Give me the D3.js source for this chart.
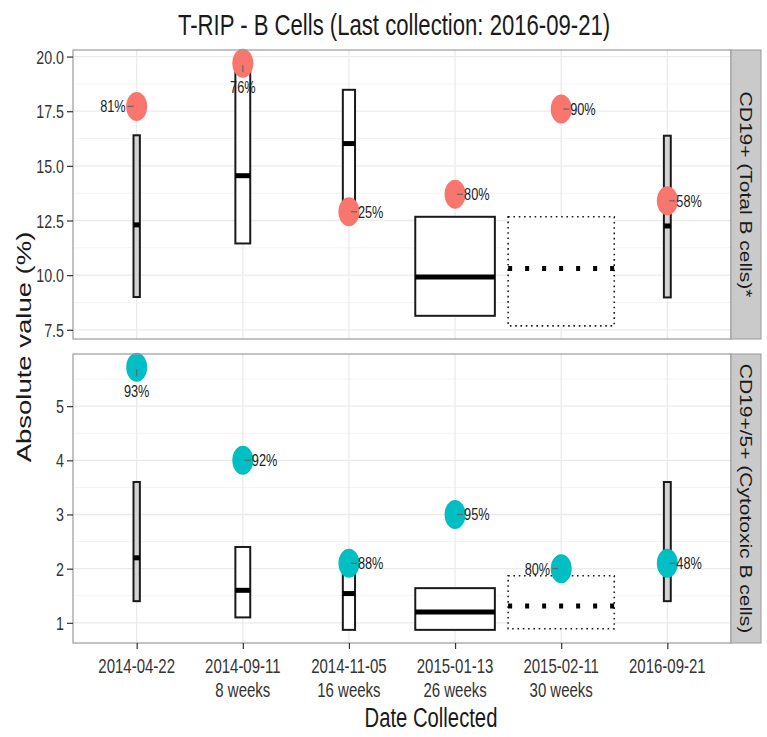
<!DOCTYPE html>
<html>
<head>
<meta charset="utf-8">
<script src="https://cdn.jsdelivr.net/npm/d3@7"></script>
<style>
  body { margin: 0; background: #fff; }
  svg { display: block; font-family: "Liberation Sans", Arial, sans-serif; }
</style>
</head>
<body>
<svg id="chart" width="767" height="737"></svg>
<script>
// ---- data ----
const dates = ["2014-04-22", "2014-09-11", "2014-11-05", "2015-01-13", "2015-02-11", "2016-09-21"];
const weeks = ["", "8 weeks", "16 weeks", "26 weeks", "30 weeks", ""];
const boxType = ["reference", "trial", "trial", "trial", "pending", "reference"];
const boxWidthRel = [0.06, 0.14, 0.115, 0.75, 1.0, 0.065];

// CD19+ (Total B cells)
const totalLow = [9.0, 11.45, 13.0, 8.14, 7.68, 8.98];
const totalMid = [12.3, 14.55, 16.02, 9.92, 10.3, 12.25];
const totalHigh = [16.4, 19.3, 18.48, 12.67, 12.67, 16.38];
const totalValue = [17.72, 19.7, 12.9, 13.7, 17.6, 13.4];
const totalPct = ["81%", "76%", "25%", "80%", "90%", "58%"];
const totalSide = ["left", "below", "right", "right", "right", "right"];
const totalTicks = [7.5, 10, 12.5, 15, 17.5, 20];

// CD19+/5+ (Cytotoxic B cells)
const cytoLow = [1.4, 1.1, 0.87, 0.87, 0.89, 1.4];
const cytoMid = [2.2, 1.6, 1.54, 1.2, 1.31, 2.2];
const cytoHigh = [3.6, 2.4, 2.0, 1.64, 1.87, 3.6];
const cytoValue = [5.72, 4.0, 2.1, 3.0, 2.0, 2.1];
const cytoPct = ["93%", "92%", "88%", "95%", "80%", "48%"];
const cytoSide = ["below", "right", "right", "right", "left", "right"];
const cytoTicks = [1, 2, 3, 4, 5];

const title = "T-RIP - B Cells (Last collection: 2016-09-21)";
const xTitle = "Date Collected";
const yTitle = "Absolute value (%)";

// ---- layout ----
const SX = 0.75; // reference is squeezed horizontally
const left = 73, right = 731, stripW = 30;
const svg = d3.select("#chart");

const x = d3.scalePoint().domain(dates).range([left, right]).padding(0.6);

function addText(parent, px, py, str, size, anchor, rot) {
  let tr = `translate(${px},${py})`;
  if (rot) tr += ` rotate(${rot}) scale(1,${SX})`;
  else tr += ` scale(${SX},1)`;
  return parent.append("text")
    .attr("transform", tr)
    .attr("font-size", size)
    .attr("text-anchor", anchor || "middle")
    .attr("fill", "#1a1a1a")
    .text(str);
}

function drawPanel(cfg) {
  const g = svg.append("g");
  const lo = d3.min(cfg.low.concat(cfg.value));
  const hi = d3.max(cfg.high.concat(cfg.value));
  const pad = (hi - lo) * 0.05;
  const y = d3.scaleLinear().domain([lo - pad, hi + pad]).range([cfg.bottom, cfg.top]);

  // minor grid
  const t = cfg.ticks, step = t[1] - t[0];
  const minor = [t[0] - step / 2].concat(t.map(v => v + step / 2))
    .filter(v => v > y.domain()[0] && v < y.domain()[1]);
  g.selectAll(".minor").data(minor).join("line")
    .attr("x1", left).attr("x2", right)
    .attr("y1", d => y(d)).attr("y2", d => y(d))
    .attr("stroke", "#f4f4f4").attr("stroke-width", 1);
  g.selectAll(".major").data(t).join("line")
    .attr("x1", left).attr("x2", right)
    .attr("y1", d => y(d)).attr("y2", d => y(d))
    .attr("stroke", "#ebebeb").attr("stroke-width", 1.3);
  g.selectAll(".vmajor").data(dates).join("line")
    .attr("x1", d => x(d)).attr("x2", d => x(d))
    .attr("y1", cfg.top).attr("y2", cfg.bottom)
    .attr("stroke", "#ebebeb").attr("stroke-width", 1.3);

  // boxes
  dates.forEach((d, i) => {
    const w = boxWidthRel[i] * x.step();
    const cx = x(d);
    const type = boxType[i];
    const dotted = type === "pending";
    g.append("rect")
      .attr("x", cx - w / 2).attr("width", w)
      .attr("y", y(cfg.high[i])).attr("height", y(cfg.low[i]) - y(cfg.high[i]))
      .attr("fill", type === "reference" ? "#d3d3d3" : "#fff")
      .attr("stroke", "#1a1a1a").attr("stroke-width", dotted ? 1.6 : 2)
      .attr("stroke-dasharray", dotted ? "1.6,3.7" : null);
    g.append("line")
      .attr("x1", cx - w / 2).attr("x2", cx + w / 2)
      .attr("y1", y(cfg.mid[i])).attr("y2", y(cfg.mid[i]))
      .attr("stroke", "#000").attr("stroke-width", 5)
      .attr("stroke-dasharray", dotted ? "4,13" : null);
  });

  // points and labels
  dates.forEach((d, i) => {
    const cx = x(d), cy = y(cfg.value[i]);
    g.append("ellipse")
      .attr("cx", cx).attr("cy", cy).attr("rx", 10.5).attr("ry", 14.5)
      .attr("fill", cfg.color);
    const side = cfg.side[i];
    let seg, tx, ty, anchor;
    if (side === "right") {
      seg = [cx + 2, cy, cx + 8, cy]; tx = cx + 9; ty = cy + 6; anchor = "start";
    } else if (side === "left") {
      seg = [cx - 9, cy, cx - 3, cy]; tx = cx - 11; ty = cy + 6; anchor = "end";
    } else {
      seg = [cx, cy + 2, cx, cy + 9]; tx = cx; ty = cy + 30; anchor = "middle";
    }
    g.append("line")
      .attr("x1", seg[0]).attr("y1", seg[1]).attr("x2", seg[2]).attr("y2", seg[3])
      .attr("stroke", "#666").attr("stroke-width", 1.2);
    addText(g, tx, ty, cfg.pct[i], 17, anchor).attr("fill", "#222");
  });

  // border
  g.append("rect")
    .attr("x", left).attr("y", cfg.top)
    .attr("width", right - left).attr("height", cfg.bottom - cfg.top)
    .attr("fill", "none").attr("stroke", "#9a9a9a").attr("stroke-width", 1.2);

  // y axis
  const yAxis = g.append("g")
    .attr("transform", `translate(${left},0)`)
    .call(d3.axisLeft(y).tickValues(t).tickSize(6).tickFormat(cfg.fmt));
  yAxis.select(".domain").remove();
  yAxis.selectAll(".tick line").attr("stroke", "#333").attr("stroke-width", 1.2);
  yAxis.selectAll(".tick text").remove();
  t.forEach(v => addText(g, left - 9, y(v) + 7, cfg.fmt(v), 19, "end").attr("fill", "#333"));

  // strip
  g.append("rect")
    .attr("x", right).attr("y", cfg.top)
    .attr("width", stripW).attr("height", cfg.bottom - cfg.top)
    .attr("fill", "#cacaca").attr("stroke", "#9a9a9a").attr("stroke-width", 1);
  addText(g, right + 9, (cfg.top + cfg.bottom) / 2, cfg.strip, 21, "middle", 90);

  return y;
}

drawPanel({
  top: 50, bottom: 339, low: totalLow, mid: totalMid, high: totalHigh,
  value: totalValue, pct: totalPct, side: totalSide, ticks: totalTicks,
  fmt: d3.format(".1f"), color: "#F8766D", strip: "CD19+ (Total B cells)*"
});

drawPanel({
  top: 354, bottom: 643, low: cytoLow, mid: cytoMid, high: cytoHigh,
  value: cytoValue, pct: cytoPct, side: cytoSide, ticks: cytoTicks,
  fmt: d3.format("d"), color: "#00BFC4", strip: "CD19+/5+ (Cytotoxic B cells)"
});

// x axis
const xAxis = svg.append("g")
  .attr("transform", "translate(0,643)")
  .call(d3.axisBottom(x).tickSize(6).tickFormat(""));
xAxis.select(".domain").remove();
xAxis.selectAll(".tick line").attr("stroke", "#333").attr("stroke-width", 1.2);
dates.forEach((d, i) => {
  addText(svg, x(d), 673, d, 20).attr("fill", "#333");
  if (weeks[i]) addText(svg, x(d), 697, weeks[i], 20).attr("fill", "#333");
});

// titles
addText(svg, 394, 35, title, 29.5);
addText(svg, 431, 727, xTitle, 27);
addText(svg, 31, 347, yTitle, 27.5, "middle", -90);
</script>
</body>
</html>
